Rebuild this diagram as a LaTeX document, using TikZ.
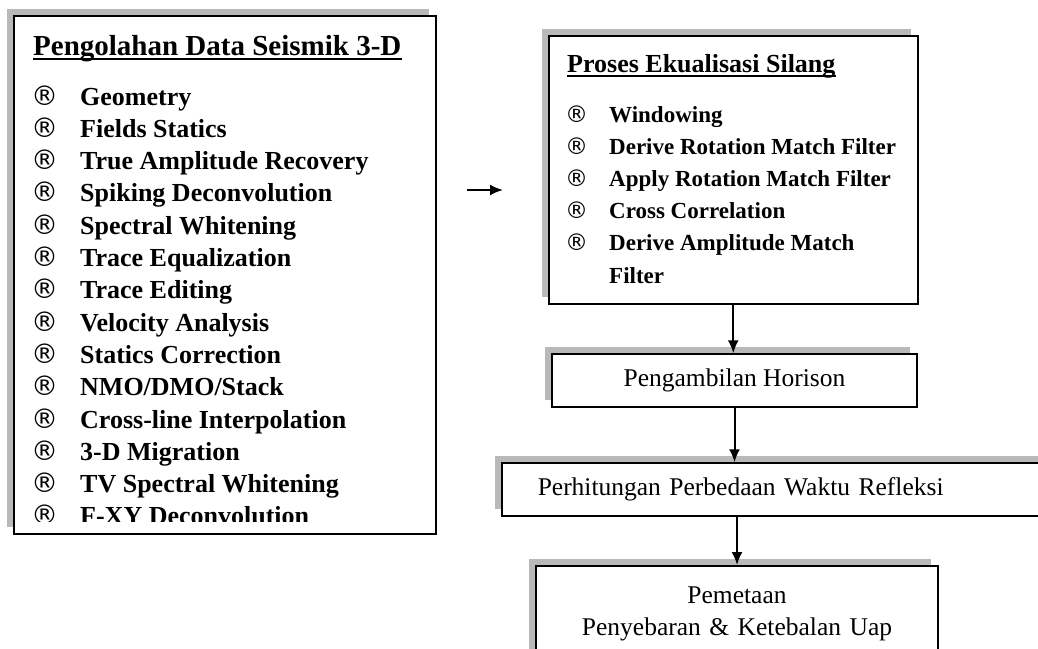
\documentclass[tikz,border=0pt]{standalone}
\usepackage{fontspec}
\setmainfont{Liberation Serif}
\newfontfamily\symfont{DejaVu Sans}
\usetikzlibrary{arrows.meta, positioning, shadows}
\tikzset{
    >={Latex[length=13pt,width=11pt]},
    procbox/.style={draw, line width=1.5pt, fill=white,
        drop shadow={shadow xshift=-7pt, shadow yshift=7pt, fill=gray!55, opacity=1}},
    flow/.style={->, line width=2pt},
    boxtitle/.style={anchor=base west, inner sep=0pt, font=\bfseries\fontsize{#1}{#1}\selectfont},
    stepitem/.style={anchor=base west, inner sep=0pt, font=\bfseries\fontsize{#1}{#1}\selectfont},
    regsym/.style={anchor=base west, inner sep=0pt, font=\symfont\fontsize{#1}{#1}\selectfont},
    flowtext/.style={font=\fontsize{25.5}{32}\selectfont},
}

\begin{document}
\begin{tikzpicture}[x=1pt, y=-1pt]
\clip (0,0) rectangle (1038,648);

% boxes
\node[procbox, anchor=north west, minimum width=422pt, minimum height=518pt] (pds) at (13,15) {};
\node[procbox, anchor=north west, minimum width=369pt, minimum height=268pt] (pes) at (548,35) {};
\node[procbox, flowtext, minimum width=365pt, minimum height=53pt] (pen) at (734.5,380.5) {Pengambilan Horison};
\node[procbox, flowtext, anchor=west, text width=477pt, inner xsep=36pt, minimum height=53pt, align=left] (per) at (501,489.5) {Perhitungan Perbedaan Waktu Refleksi};
\node[procbox, flowtext, anchor=north, text width=402pt, inner xsep=0pt, inner ysep=21pt, align=center] (pem) at (737,565) {Pemetaan\\Penyebaran \& Ketebalan Uap};

% pengolahan data
\node[boxtitle=29] (pdsttl) at (33,55) {Pengolahan Data Seismik 3-D};
\draw[line width=1.8pt] ([yshift=-4pt]pdsttl.base west) -- ([yshift=-4pt]pdsttl.base east);
\begin{scope}
\clip (13,15) rectangle (435,521);
\foreach \txt [count=\i] in {Geometry, Fields Statics, True Amplitude Recovery, Spiking Deconvolution, Spectral Whitening, Trace Equalization, Trace Editing, Velocity Analysis, Statics Correction, NMO/DMO/Stack, Cross-line Interpolation, 3-D Migration, TV Spectral Whitening, F-XY Deconvolution} {
    \node[regsym=27] (pdsr\i) at (31, 105+32.3*\i-32.3) {®};
    \node[stepitem=26] (pds\i) at (80, 105+32.3*\i-32.3) {\txt};
}
\end{scope}

% ekualisasi silang
\node[boxtitle=26] (pesttl) at (567,72) {Proses Ekualisasi Silang};
\draw[line width=1.8pt] ([yshift=-4pt]pesttl.base west) -- ([yshift=-4pt]pesttl.base east);
\foreach \txt [count=\i] in {Windowing, Derive Rotation Match Filter, Apply Rotation Match Filter, Cross Correlation, Derive Amplitude Match} {
    \node[regsym=23] (pesr\i) at (565, 122+32.2*\i-32.2) {®};
    \node[stepitem=23] (pes\i) at (609, 122+32.2*\i-32.2) {\txt};
}
\node[stepitem=23] (pes6) at (609,283) {Filter};

% arrows
\coordinate (gapa) at (467,190);
\coordinate (gapb) at (503,190);
\draw[flow] (gapa) -- (gapb);
\draw[flow] (pes.south) -- (pes.south |- pen.north);
\draw[flow] (pen.south) -- (pen.south |- per.north);
\draw[flow] (per.south -| pem.north) -- (pem.north);

\end{tikzpicture}
\end{document}
